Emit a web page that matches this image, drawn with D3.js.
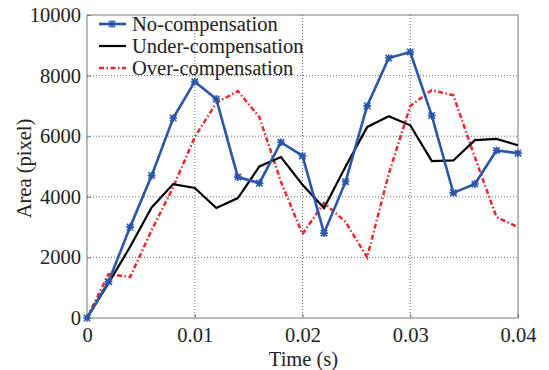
<!DOCTYPE html>
<html><head><meta charset="utf-8">
<script src="https://cdn.jsdelivr.net/npm/d3@7"></script>
<style>body{margin:0;background:#fff}svg{display:block}text{font-family:"Liberation Serif","Times New Roman",serif;fill:#222}</style>
</head><body><svg id="c" width="549" height="370"></svg>
<script>
const times = [0,0.002,0.004,0.006,0.008,0.010,0.012,0.014,0.016,0.018,0.020,0.022,0.024,0.026,0.028,0.030,0.032,0.034,0.036,0.038,0.040];
const noComp = [0,1200,3000,4700,6600,7800,7230,4650,4450,5800,5350,2800,4500,7000,8580,8780,6680,4130,4420,5530,5440];
const underComp = [0,1150,2350,3650,4420,4290,3630,3960,5000,5310,4400,3630,5000,6300,6660,6360,5180,5200,5870,5910,5700];
const overComp = [0,1450,1350,2900,4320,5970,7100,7490,6630,4500,2770,3800,3170,2000,4750,7000,7520,7350,5300,3330,3000];
const xTicks = [0,0.01,0.02,0.03,0.04];
const yTicks = [0,2000,4000,6000,8000,10000];
const seriesNames = ["No-compensation","Under-compensation","Over-compensation"];

const FS = "20.5px";
const svg = d3.select("#c");
const L=87,R=518,T=15,B=318;
const x = d3.scaleLinear().domain([0,0.04]).range([L,R]);
const y = d3.scaleLinear().domain([0,10000]).range([B,T]);

// grid
const g = svg.append("g");
g.selectAll(".gx").data(xTicks.slice(1,-1)).enter().append("line")
 .attr("x1",d=>x(d)).attr("x2",d=>x(d)).attr("y1",T).attr("y2",B)
 .attr("stroke","#444").attr("stroke-width",0.8).attr("stroke-dasharray","1,2");
g.selectAll(".gy").data(yTicks.slice(1,-1)).enter().append("line")
 .attr("y1",d=>y(d)).attr("y2",d=>y(d)).attr("x1",L).attr("x2",R)
 .attr("stroke","#444").attr("stroke-width",0.8).attr("stroke-dasharray","1,2");

// frame
svg.append("rect").attr("x",L).attr("y",T).attr("width",R-L).attr("height",B-T)
 .attr("fill","none").attr("stroke","#777").attr("stroke-width",1);

// axes
const xAx = d3.axisBottom(x).tickValues(xTicks).tickFormat(d=>d===0?"0":d3.format(".2f")(d)).tickSizeInner(-4).tickSizeOuter(0).tickPadding(9);
const xg = svg.append("g").attr("transform",`translate(0,${B})`).call(xAx);
xg.select(".domain").remove();
xg.selectAll("line").attr("stroke","#777");
xg.selectAll("text").style("font-size",FS).attr("font-family","Liberation Serif").attr("fill","#222");
const yAx = d3.axisLeft(y).tickValues(yTicks).tickFormat(d3.format("d")).tickSizeInner(-4).tickSizeOuter(0).tickPadding(6);
const yg = svg.append("g").attr("transform",`translate(${L},0)`).call(yAx);
yg.select(".domain").remove();
yg.selectAll("line").attr("stroke","#777");
yg.selectAll("text").style("font-size",FS).attr("font-family","Liberation Serif").attr("fill","#222");

svg.append("text").attr("x",(L+R)/2+1).attr("y",366).attr("text-anchor","middle").style("font-size",FS).text("Time (s)");
svg.append("text").attr("transform",`translate(31,${(T+B)/2+2}) rotate(-90)`).attr("text-anchor","middle").style("font-size",FS).text("Area (pixel)");

const line = d3.line().x((d,i)=>x(times[i])).y(d=>y(d));
const blue="#2a55a8", red="#f2262b";
const redDash="5,2.5,1.5,2.5";
svg.append("path").datum(overComp).attr("d",line).attr("fill","none").attr("stroke",red).attr("stroke-width",2.5).attr("stroke-dasharray",redDash);
svg.append("path").datum(underComp).attr("d",line).attr("fill","none").attr("stroke","#000").attr("stroke-width",2.2);
svg.append("path").datum(noComp).attr("d",line).attr("fill","none").attr("stroke",blue).attr("stroke-width",2.6);

function star(sel,cx,cy,s){
  const p = `M${cx-s},${cy-s}L${cx+s},${cy+s}M${cx-s},${cy+s}L${cx+s},${cy-s}M${cx-s*1.2},${cy}L${cx+s*1.2},${cy}M${cx},${cy-s*1.2}L${cx},${cy+s*1.2}`;
  sel.append("path").attr("d",p).attr("stroke",blue).attr("stroke-width",1.6).attr("fill","none");
}
const mk = svg.append("g");
noComp.forEach((v,i)=>star(mk,x(times[i]),y(v),3.2));

// legend
const lg = svg.append("g");
const rowsY=[24,46,68];
const styles=[{c:blue,w:2.6,d:null},{c:"#000",w:2.2,d:null},{c:red,w:2.5,d:redDash}];
seriesNames.forEach((n,i)=>{
  const l=lg.append("line").attr("x1",99).attr("x2",126).attr("y1",rowsY[i]).attr("y2",rowsY[i]).attr("stroke",styles[i].c).attr("stroke-width",styles[i].w);
  if(styles[i].d) l.attr("stroke-dasharray",styles[i].d);
  if(i===0) star(lg,112,rowsY[i],3.2);
  lg.append("text").attr("x",132).attr("y",rowsY[i]+7).style("font-size",FS).text(n);
});
</script></body></html>
